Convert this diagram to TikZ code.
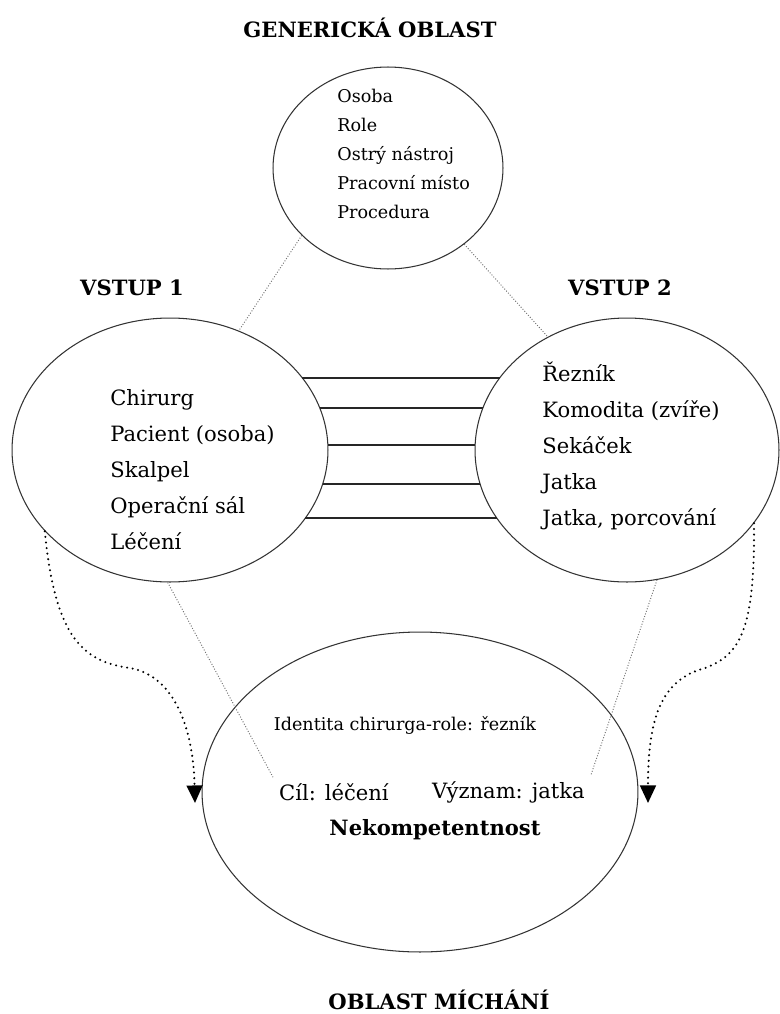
\documentclass[tikz,border=0pt]{standalone}
\usepackage{fontspec}
\setmainfont{DejaVu Serif}
\usetikzlibrary{shapes, positioning, arrows.meta}

\begin{document}
\begin{tikzpicture}[x=0.02cm, y=-0.02cm,
            oblast/.style={draw=black!80, ellipse, inner sep=0pt, line width=0.6pt},
            seznam/.style={align=left, anchor=west, inner sep=0pt},
            nadpis/.style={font=\fontsize{12}{14}\selectfont\bfseries},
            vazba/.style={draw=gray!90!black, line width=0.55pt, densely dotted},
            prenos/.style={line width=1.3pt, line cap=round, dash pattern=on 0pt off 3.2pt,
                -{Triangle[length=10pt, width=9pt]}}]
            \useasboundingbox (0,0) rectangle (779,1014);
            % nadpisy
            \node[nadpis] (tGen) at (370,28) {GENERICKÁ OBLAST};
            \node[nadpis] (tV1) at (132,288) {VSTUP 1};
            \node[nadpis] (tV2) at (620,288) {VSTUP 2};
            \node[nadpis] (tMix) at (439,1000) {OBLAST MÍCHÁNÍ};
            % oblasti
            \node[oblast, minimum width=4.6cm, minimum height=4.04cm] (G) at (388,168) {};
            \node[oblast, minimum width=6.32cm, minimum height=5.28cm] (L) at (170,450) {};
            \node[oblast, minimum width=6.08cm, minimum height=5.28cm] (R) at (627,450) {};
            \node[oblast, minimum width=8.72cm, minimum height=6.4cm] (B) at (420,792) {};
            % obsah
            \node[seznam, font=\fontsize{10}{16.5}\selectfont] (sG) at (337,154)
                {Osoba\\Role\\Ostrý nástroj\\Pracovní místo\\Procedura};
            \node[seznam, font=\fontsize{12}{20.5}\selectfont] (sL) at (110,470)
                {Chirurg\\Pacient (osoba)\\Skalpel\\Operační sál\\Léčení};
            \node[seznam, font=\fontsize{12}{20.5}\selectfont] (sR) at (542,446)
                {Řezník\\Komodita (zvíře)\\Sekáček\\Jatka\\Jatka, porcování};
            \node[font=\fontsize{10}{12}\selectfont] (ident) at (405,725) {Identita chirurga-role: řezník};
            \node[anchor=west, font=\fontsize{12}{14}\selectfont] (cil) at (273,792) {Cíl: léčení};
            \node[anchor=west, font=\fontsize{12}{14}\selectfont] (vyz) at (426,792) {Význam: jatka};
            \node[nadpis] (nekomp) at (435,830) {Nekompetentnost};
            % propojeni vstupu
            \foreach \t in {-33.05, -18.55, -2.17, 14.93, 31.0}
                \draw[black!85, line width=0.7pt] ([shift={(\t:158 and 132)}]L.center)
                    -- ([shift={(180-\t:152 and 132)}]R.center);
            % projekce
            \draw[vazba] (G.218) -- (L.60);
            \draw[vazba] (G.315) -- (R.125);
            \draw[vazba] (L.269) -- (cil.north west);
            \draw[vazba] (R.283) -- (vyz.north east);
            % prenos do michani
            \coordinate (inL) at (195,803);
            \coordinate (inR) at (648,803);
            \draw[prenos] (L.213) .. controls (55,640) and (85,662) .. (130,668)
                .. controls (170,675) and (193,720) .. (inL);
            \draw[prenos] (R.330) .. controls (755,630) and (740,655) .. (705,668)
                .. controls (660,680) and (648,720) .. (inR);
\end{tikzpicture}
\end{document}
